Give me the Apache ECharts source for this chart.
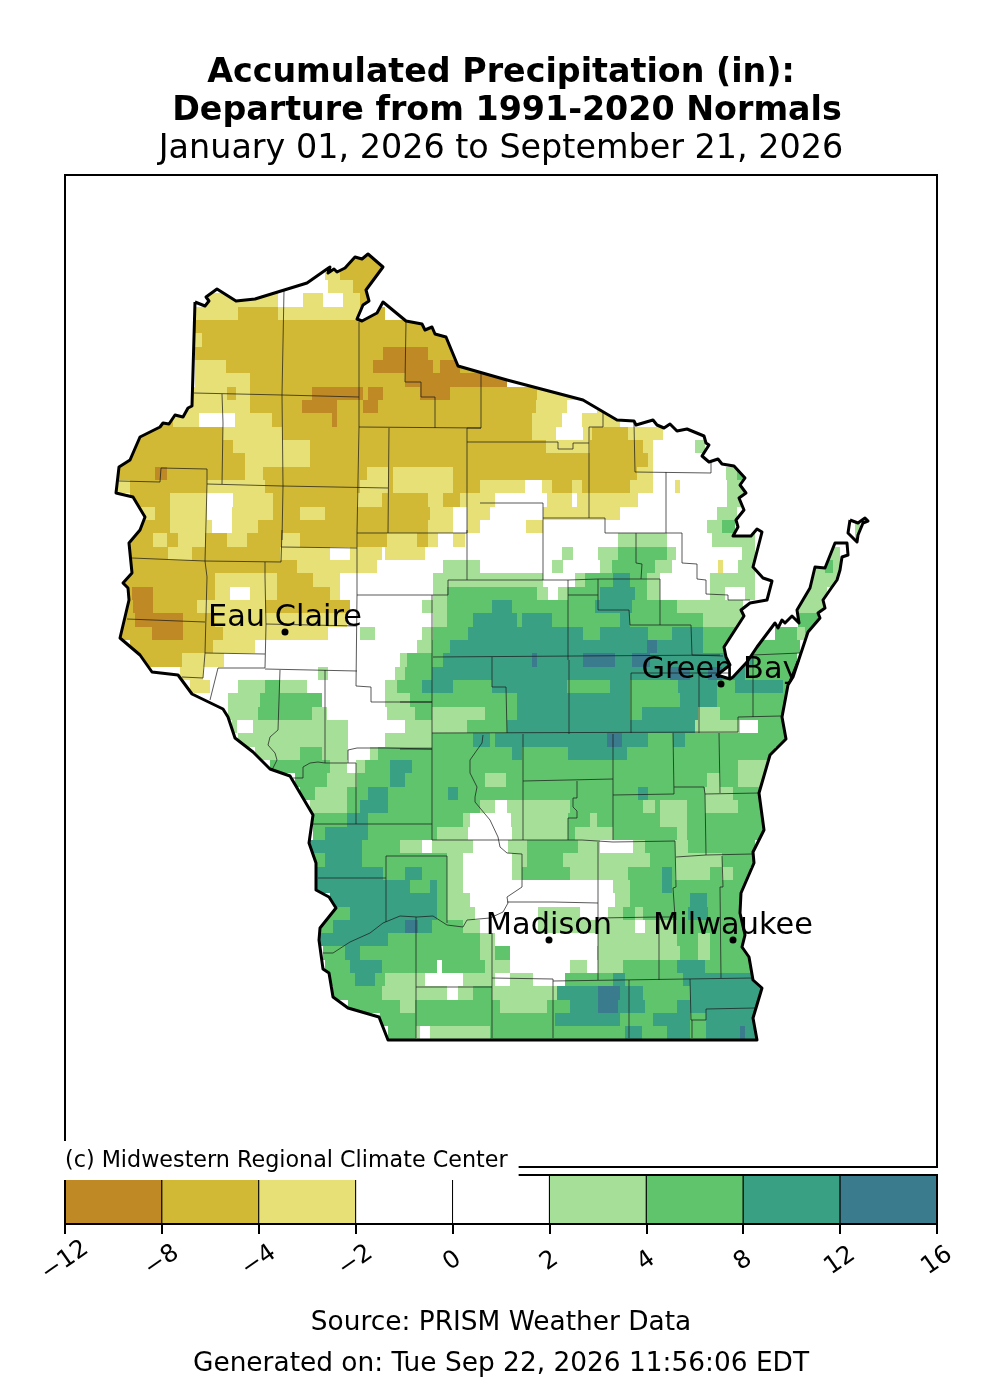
<!DOCTYPE html>
<html>
<head>
<meta charset="utf-8">
<title>Accumulated Precipitation</title>
<script src="https://cdn.jsdelivr.net/npm/echarts@6/dist/echarts.min.js"></script>
<style>
  html, body { margin: 0; padding: 0; background: #fff; }
  #chart { width: 1002px; height: 1400px; }
</style>
</head>
<body>
<div id="chart"></div>
<script>
// colour bar
const tickLabels = ['\u221212', '\u22128', '\u22124', '\u22122', '0', '2', '4', '8', '12', '16'];
const barColors = ['#bf8926', '#d1b936', '#e7e076', '#ffffff', '#ffffff', '#a6df98', '#60c46c', '#3aa084', '#3a7b8e'];
// raster letters -> colour bar bin
const binOfLetter = { B: 0, G: 1, P: 2, W: 3, L: 5, M: 6, T: 7, D: 8 };

// cities
const cityNames = ['Eau Claire', 'Green Bay', 'Madison', 'Milwaukee'];
const cityEast = [285, 721, 549, 733];
const cityNorth = [632, 684, 940, 940];

// precipitation departure, one line per raster row, north to south:
// easting, bin letter, next easting, bin letter ... last easting
const rowStart = 253.33;
const rowStep = 13.33;
const rasterRows = [
  '340 G 385',
  '325 P 340 G 385',
  '300 W 328 P 353 G 380',
  '195 W 205 P 278 W 303 P 323 W 343 P 360 G 372',
  '195 P 238 G 278 P 360 G 385',
  '195 G 500',
  '195 P 202 G 450',
  '195 G 383 B 428 G 460',
  '195 P 226 G 373 B 433 G 440 B 460 G 480',
  '195 P 250 G 405 B 507',
  '190 P 227 G 236 P 250 G 312 B 363 G 368 B 383 G 420 B 450 G 537 P 585',
  '185 P 250 G 302 B 337 G 363 B 378 G 536 P 567 W 597 P 610',
  '140 G 173 P 199 W 235 P 272 G 332 B 337 G 532 P 562 W 582 P 620',
  '140 G 223 P 282 G 532 P 556 W 583 P 592 G 628 P 663 W 705',
  '120 G 233 P 310 G 546 P 590 G 643 P 653 W 695 L 705 W 710',
  '120 G 245 P 310 G 648 P 653 W 725',
  '115 G 155 B 167 G 245 P 263 G 367 P 388 G 393 P 453 G 637 P 653 W 726 L 737 M 745',
  '115 P 130 G 207 P 265 G 360 P 388 G 393 P 453 G 480 P 525 W 542 P 552 G 572 P 582 G 630 P 653 W 675 P 680 W 727 L 745',
  '130 G 170 P 207 W 233 P 273 G 357 P 382 G 428 P 443 G 460 P 495 W 547 P 572 W 577 P 638 W 727 L 745',
  '140 P 155 G 170 P 207 W 232 P 273 G 300 P 325 G 430 P 453 W 467 P 490 W 543 P 620 W 717 L 737',
  '135 G 170 P 212 W 232 P 258 G 428 P 453 W 467 P 480 W 526 P 543 W 707 L 722 M 735 W 855 L 860 W 868',
  '130 G 153 P 167 G 178 P 205 G 227 P 247 G 282 P 300 G 387 P 417 G 428 P 438 W 453 P 465 W 618 L 667 W 712 L 755 W 855 L 860 W 868',
  '130 G 168 P 192 G 280 P 330 W 350 P 382 W 385 P 425 W 562 L 573 W 598 L 618 M 667 L 676 W 742 L 755 W 830 L 840 W 850',
  '128 G 297 P 377 W 443 L 480 W 552 L 563 W 600 L 612 M 655 L 672 W 718 P 723 W 738 L 755 W 815 L 825 M 833 L 842',
  '125 G 215 P 277 G 313 P 340 W 433 L 543 W 575 L 585 M 613 T 630 M 647 L 660 W 710 L 755 W 810 L 838',
  '125 G 132 B 153 G 215 P 230 W 250 P 277 G 330 P 340 W 433 L 447 M 537 L 548 W 558 L 568 M 600 T 635 M 647 L 660 W 710 L 725 W 745 L 755 W 805 L 827',
  '120 G 133 B 153 G 197 P 265 G 350 W 422 L 447 M 492 T 512 M 595 T 632 M 677 L 743 W 798 L 823',
  '120 G 135 B 183 G 215 P 347 W 433 L 447 M 473 T 517 M 522 T 552 M 620 T 630 M 703 L 760 W 798 M 818',
  '120 G 152 B 183 G 223 P 328 W 360 L 375 W 422 L 433 M 468 T 583 M 600 T 648 M 672 T 703 M 735 W 775 M 797 L 805 M 810',
  '130 G 213 P 255 W 417 L 432 M 450 T 647 D 657 T 703 M 800',
  '140 G 182 P 224 W 400 L 407 M 443 T 532 D 537 T 583 D 615 T 632 D 650 T 753 M 797',
  '180 P 203 W 318 L 328 W 395 L 405 M 432 T 670 D 690 T 708 D 722 T 745 M 795',
  '190 P 210 W 238 L 265 M 280 L 307 W 385 L 397 M 422 T 453 M 492 T 567 M 610 T 630 M 678 T 717 M 735 T 783 M 790',
  '210 W 228 L 260 M 322 W 385 L 410 M 517 T 630 M 680 T 717 M 785',
  '228 L 258 M 312 L 327 W 387 L 415 M 432 L 485 M 517 T 630 M 642 T 698 L 720 M 785',
  '232 L 237 W 253 L 348 W 405 L 467 M 507 T 695 L 740 W 758 M 785',
  '238 L 348 W 385 L 432 M 473 T 490 M 495 T 607 D 622 T 648 M 673 T 685 M 786',
  '255 L 300 M 322 L 348 W 370 L 378 M 512 T 522 M 568 T 627 M 775',
  '270 M 330 L 347 W 356 L 365 M 390 T 412 M 738 L 770',
  '295 M 327 L 357 M 390 T 405 M 485 L 506 M 707 L 720 M 738 L 765',
  '300 M 315 L 347 M 368 T 388 M 448 T 458 M 638 T 648 M 705 L 733 M 765',
  '310 L 347 M 360 T 388 M 480 L 495 W 507 L 570 M 643 L 655 M 660 L 687 M 705 L 738 M 765',
  '313 M 347 T 368 M 463 L 470 W 511 L 568 M 590 L 597 M 660 L 687 M 765',
  '313 M 325 T 368 M 437 L 468 W 512 L 568 M 575 L 613 M 677 L 687 M 765',
  '310 T 362 M 400 L 422 W 432 L 473 W 508 L 527 M 578 L 600 W 633 L 645 M 675 L 688 M 755',
  '313 M 325 T 362 M 447 L 463 W 512 L 527 M 563 L 650 M 675 L 722 M 755',
  '316 T 383 M 405 T 422 M 447 L 463 W 512 L 522 M 570 L 628 M 662 T 672 M 675 L 710 M 722 L 733 M 750',
  '316 T 410 M 430 T 437 M 447 L 463 W 613 L 630 M 662 T 672 M 745',
  '330 T 437 M 447 L 470 W 615 L 630 M 690 T 707 M 745',
  '320 M 350 T 437 M 447 L 475 W 538 L 580 W 608 L 623 M 635 L 643 M 688 T 708 M 745',
  '320 M 333 T 405 D 418 T 432 M 463 L 480 W 538 L 635 W 645 L 677 M 745',
  '320 T 388 M 480 L 495 W 598 L 677 M 698 L 710 M 745',
  '323 M 345 T 360 M 480 L 495 M 510 W 597 L 680 M 698 L 710 M 752',
  '325 M 350 T 382 M 437 W 442 M 485 L 510 W 570 L 587 W 598 L 623 M 677 T 705 M 755',
  '330 M 355 T 375 M 385 L 425 W 463 L 495 W 510 L 533 W 565 M 613 T 625 M 683 T 762',
  '333 M 382 L 447 W 458 L 473 M 492 L 557 T 598 D 620 T 643 M 690 T 762',
  '348 M 400 L 415 M 500 L 547 M 570 T 598 D 618 T 645 M 677 T 760',
  '380 M 555 T 620 M 653 T 690 M 706 T 760',
  '388 M 416 L 420 W 430 L 490 M 625 T 642 M 667 T 690 M 706 T 740 D 745 T 760'
];

// state shoreline and border
const mainShore = [[195,302],[205,306],[209,301],[206,297],[217,289],[236,301],[255,299],[307,283],[327,269],[330,267],[328,273],[334,269],[337,272],[345,268],[355,257],[362,259],[368,254],[383,267],[366,290],[369,301],[363,305],[357,319],[362,321],[377,313],[383,302],[406,321],[422,324],[425,330],[432,327],[435,334],[446,337],[458,366],[507,380],[583,400],[617,420],[634,421],[636,425],[653,420],[657,425],[664,428],[670,424],[677,431],[687,429],[704,436],[706,443],[709,445],[702,456],[709,462],[718,459],[722,464],[734,466],[745,478],[740,485],[746,493],[739,498],[744,510],[736,520],[738,527],[733,536],[751,536],[757,529],[762,532],[753,567],[763,578],[772,581],[767,600],[750,603],[741,610],[744,616],[724,647],[726,657],[730,665],[717,675],[730,679],[733,677],[747,662],[757,647],[775,623],[778,628],[782,620],[785,623],[792,616],[799,623],[797,610],[810,588],[815,567],[825,568],[835,543],[847,543],[848,555],[842,557],[840,570],[837,580],[832,587],[823,600],[825,608],[818,613],[820,618],[808,632],[793,677],[788,685],[782,717],[786,739],[770,755],[759,793],[764,830],[753,852],[754,863],[741,893],[740,913],[745,935],[742,947],[749,957],[753,980],[762,988],[753,1018],[757,1040],[388,1040],[379,1017],[348,1008],[333,997],[329,973],[323,969],[319,940],[320,928],[336,908],[329,897],[316,890],[316,863],[309,843],[313,815],[290,776],[270,769],[253,752],[235,738],[228,717],[223,709],[192,694],[178,675],[152,672],[140,655],[120,638],[129,600],[128,588],[123,583],[132,573],[129,543],[140,530],[145,517],[133,497],[116,493],[119,467],[130,460],[140,437],[160,427],[163,423],[169,424],[175,415],[183,417],[188,408],[192,406],[195,302]];
const islandShore = [[850,520],[848,533],[857,542],[858,535],[863,523],[868,521],[865,518],[858,523],[850,520]];

// county boundaries
const countyLines = [
  [[284,290],[282,395],[283,486],[282,540]],
  [[194,393],[282,395],[359,397]],
  [[359,322],[359,427],[357,533]],
  [[359,427],[481,428]],
  [[406,322],[405,382],[421,382],[421,397],[435,397],[435,428]],
  [[481,373],[481,428],[467,428],[467,533]],
  [[467,442],[558,442],[558,449],[573,449],[573,443],[589,443]],
  [[389,428],[388,533]],
  [[388,488],[282,486],[207,484],[207,469],[161,468],[160,482],[119,481]],
  [[222,394],[223,423],[222,484]],
  [[207,484],[205,561],[207,577],[205,653],[203,678],[182,677]],
  [[357,533],[467,533]],
  [[132,558],[205,561],[281,562],[282,530]],
  [[281,547],[357,548]],
  [[357,533],[357,595],[433,595],[448,595],[448,580],[543,580],[568,580],[598,579],[660,579]],
  [[467,530],[467,580]],
  [[265,562],[265,577],[266,625],[265,668]],
  [[266,624],[357,626]],
  [[127,619],[205,622]],
  [[205,653],[265,654]],
  [[265,668],[218,668],[215,680],[210,700]],
  [[265,669],[357,671]],
  [[280,670],[278,730],[270,737],[268,745],[275,753],[277,760],[272,770]],
  [[357,595],[356,686],[371,687],[371,702],[432,702]],
  [[325,670],[325,763]],
  [[432,595],[432,840]],
  [[400,702],[432,702]],
  [[348,763],[348,750],[357,748],[385,748],[432,749]],
  [[293,778],[303,778],[303,767],[310,763],[318,762],[325,763],[356,763],[356,824]],
  [[313,824],[432,824]],
  [[433,657],[720,655]],
  [[492,657],[492,687],[506,687],[507,733]],
  [[432,733],[738,732],[738,717],[781,716]],
  [[480,503],[543,503],[543,580]],
  [[543,518],[605,518],[605,533],[682,533],[682,563],[697,564],[697,579],[706,580],[706,594],[728,595],[728,600],[750,600]],
  [[589,427],[603,427],[603,413]],
  [[589,427],[589,518]],
  [[634,423],[635,472],[711,473],[711,462]],
  [[666,472],[666,533]],
  [[636,533],[636,563],[642,564],[641,579]],
  [[598,579],[598,610],[629,610],[630,625],[660,625],[660,579]],
  [[660,625],[691,625],[692,655],[723,656]],
  [[568,580],[568,660]],
  [[568,595],[598,595]],
  [[569,660],[569,734]],
  [[631,673],[730,673]],
  [[631,673],[631,733]],
  [[699,672],[699,733]],
  [[753,655],[800,653]],
  [[753,655],[753,717]],
  [[400,749],[432,749]],
  [[523,734],[523,840]],
  [[613,734],[613,840]],
  [[673,733],[674,794]],
  [[719,733],[720,793]],
  [[523,781],[613,779]],
  [[577,781],[577,798],[573,798],[573,807],[577,811],[577,818],[568,818],[568,840]],
  [[613,795],[674,794]],
  [[674,787],[704,787],[705,794],[759,793]],
  [[705,794],[706,855]],
  [[432,840],[582,840],[584,842],[613,842],[675,841],[676,887],[673,888],[675,917]],
  [[676,857],[706,855],[752,854]],
  [[722,856],[723,887],[720,887],[721,978]],
  [[598,842],[598,980]],
  [[386,856],[447,856],[447,923]],
  [[386,856],[386,922]],
  [[318,878],[386,878]],
  [[507,902],[553,902],[553,904],[598,903]],
  [[598,918],[659,917],[675,917]],
  [[659,917],[659,980]],
  [[492,933],[492,1038]],
  [[416,917],[416,1038]],
  [[416,987],[492,987]],
  [[492,978],[553,979],[553,1038]],
  [[553,981],[753,978]],
  [[629,980],[629,1038]],
  [[690,979],[691,1020],[706,1020],[706,1009],[755,1008]],
  [[692,1020],[692,1038]]
];

// Wisconsin river, drawn finer than the county lines
const riverLine = [[483,735],[482,743],[477,750],[470,760],[470,773],[477,787],[475,797],[475,802],[480,808],[490,820],[498,837],[500,847],[507,853],[522,854],[522,887],[507,897],[508,903],[503,912],[490,918],[467,920],[463,927],[447,925],[433,916],[417,917],[400,916],[383,923],[370,933],[350,942],[333,953],[323,953]];

function withBreaks(paths) {
  const out = [];
  paths.forEach(p => { out.push(...p, ['-', '-']); });
  return out;
}

const rasterRuns = [];
rasterRows.forEach((row, r) => {
  const parts = row.split(' ');
  for (let i = 0; i + 2 < parts.length; i += 2) {
    rasterRuns.push([+parts[i], +parts[i + 2], rowStart + r * rowStep, binOfLetter[parts[i + 1]]]);
  }
});
const clipRing = mainShore.concat(islandShore, [mainShore[0]]);
const barBins = barColors.map((c, i) => [i, i + 1]);

const myChart = echarts.init(document.getElementById('chart'));

function titleLine(text, left, top, size, weight) {
  return { text, left, top, textAlign: 'center', padding: 0,
    textStyle: { fontFamily: 'DejaVu Sans', fontSize: size, fontWeight: weight, color: '#000' } };
}

myChart.setOption({
  animation: false,
  backgroundColor: '#fff',
  title: [
    titleLine('Accumulated Precipitation (in):', 501, 57, 33.3, 'bold'),
    titleLine('Departure from 1991-2020 Normals', 507, 95, 33.3, 'bold'),
    titleLine('January 01, 2026 to September 21, 2026', 501, 133, 33.4, 'normal'),
    titleLine('Source: PRISM Weather Data', 501, 1310, 26.4, 'normal'),
    titleLine('Generated on: Tue Sep 22, 2026 11:56:06 EDT', 501, 1351, 26.4, 'normal'),
    { text: '(c) Midwestern Regional Climate Center', left: 62, top: 1141, padding: [9, 11, 8, 3], z: 20,
      backgroundColor: '#fff',
      textStyle: { fontFamily: 'DejaVu Sans', fontSize: 22.25, fontWeight: 'normal', color: '#000' } }
  ],
  grid: [
    { left: 65, top: 175, width: 872, height: 992, show: true, borderColor: '#000', borderWidth: 2, backgroundColor: '#fff' },
    { left: 65, top: 1175, width: 872, height: 49, show: true, borderColor: '#000', borderWidth: 2, z: 10 }
  ],
  xAxis: [
    { gridIndex: 0, type: 'value', min: 65, max: 937, show: false },
    { gridIndex: 1, type: 'value', min: 0, max: 9, interval: 1,
      axisLine: { show: false },
      axisTick: { length: 10, lineStyle: { color: '#000', width: 2 } },
      splitLine: { show: false },
      axisLabel: { show: true, rotate: 35, margin: 37, align: 'center', verticalAlign: 'middle', showMinLabel: true, showMaxLabel: true,
        fontFamily: 'DejaVu Sans', fontSize: 24.4, color: '#000',
        formatter: v => tickLabels[v] } }
  ],
  yAxis: [
    { gridIndex: 0, type: 'value', min: 175, max: 1167, inverse: true, show: false },
    { gridIndex: 1, type: 'value', min: 0, max: 1, show: false }
  ],
  series: [
    {
      type: 'custom', xAxisIndex: 0, yAxisIndex: 0, data: rasterRuns, silent: true, z: 2,
      renderItem(params, api) {
        const a = api.coord([api.value(0), api.value(2)]);
        const b = api.coord([api.value(1), api.value(2) + rowStep]);
        return {
          type: 'rect',
          shape: { x: a[0], y: Math.round(a[1]), width: b[0] - a[0], height: Math.round(b[1]) - Math.round(a[1]) },
          style: { fill: barColors[api.value(3)] },
          clipPath: { type: 'polygon', shape: { points: clipRing.map(p => api.coord(p)) } }
        };
      }
    },
    {
      type: 'line', xAxisIndex: 0, yAxisIndex: 0, data: withBreaks(countyLines), z: 3, silent: true,
      showSymbol: false, connectNulls: false, lineStyle: { color: 'rgba(25,25,25,0.72)', width: 1 }
    },
    {
      type: 'line', xAxisIndex: 0, yAxisIndex: 0, data: riverLine, z: 3, silent: true,
      showSymbol: false, lineStyle: { color: 'rgba(25,25,25,0.72)', width: 1 }
    },
    {
      type: 'line', xAxisIndex: 0, yAxisIndex: 0, data: withBreaks([mainShore, islandShore]), z: 4, silent: true,
      showSymbol: false, connectNulls: false, lineStyle: { color: '#000', width: 3, join: 'round' }
    },
    {
      type: 'scatter', xAxisIndex: 0, yAxisIndex: 0, z: 5, silent: true,
      data: cityNames.map((name, i) => ({ name, value: [cityEast[i], cityNorth[i]] })),
      symbolSize: 7, itemStyle: { color: '#000', opacity: 1 },
      label: { show: true, position: 'top', distance: -5, formatter: '{b}', fontFamily: 'DejaVu Sans', fontSize: 30.4, color: '#000', opacity: 1 }
    },
    {
      type: 'custom', xAxisIndex: 1, yAxisIndex: 1, data: barBins, silent: true, z: 2,
      renderItem(params, api) {
        const a = api.coord([api.value(0), 1]);
        const b = api.coord([api.value(1), 0]);
        return {
          type: 'rect',
          shape: { x: a[0], y: a[1], width: b[0] - a[0], height: b[1] - a[1] },
          style: { fill: barColors[params.dataIndex], stroke: '#000', lineWidth: 1 }
        };
      }
    }
  ]
});
</script>
</body>
</html>
